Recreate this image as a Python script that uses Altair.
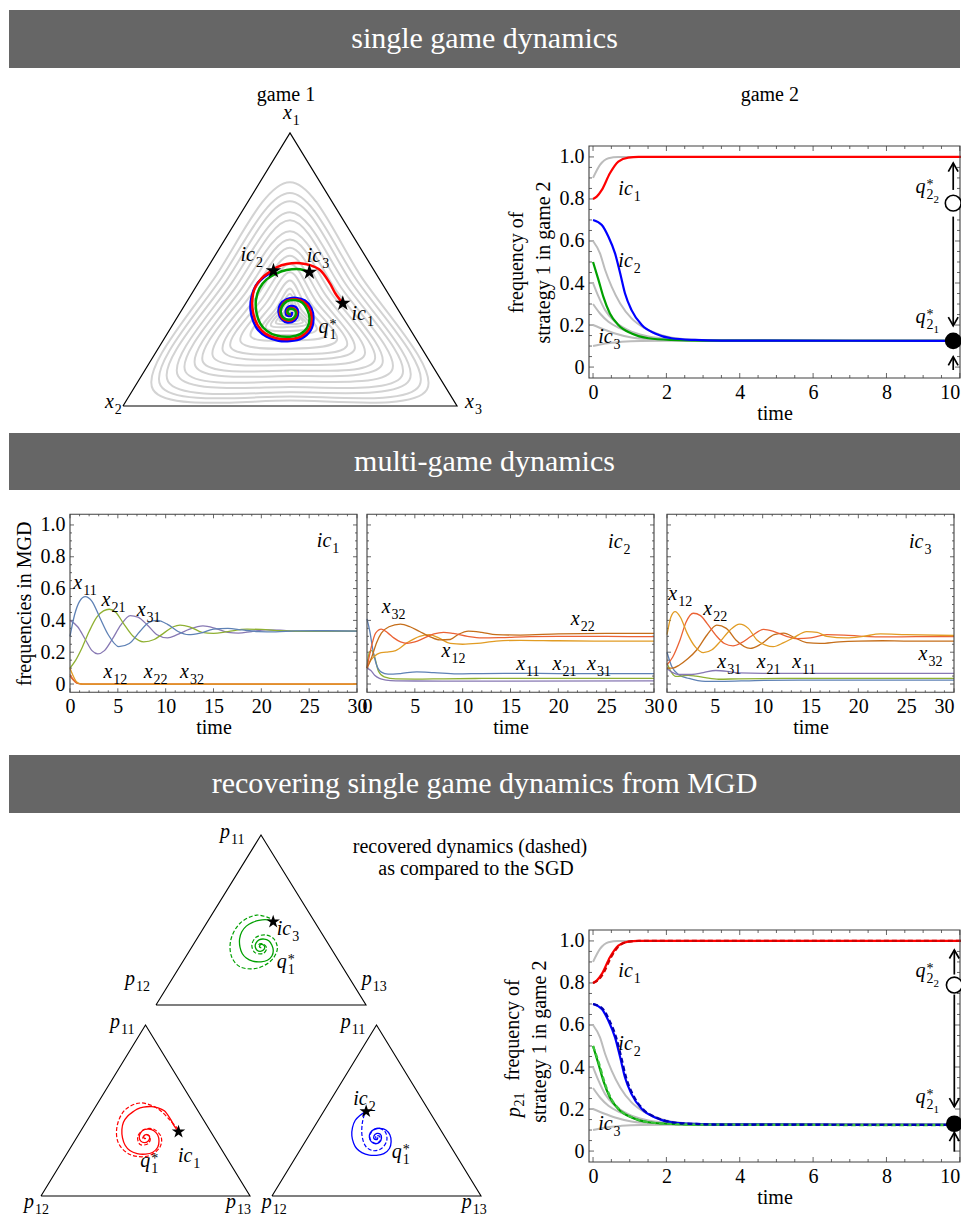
import altair as alt
import pandas as pd
import numpy as np

W, H = 953, 1209
FONT = "Liberation Serif"
FRAME = "#404040"
GRAYLOOP = "#d3d3d3"
GRAYTS = "#bcbcbc"
RED, GREEN, BLUE = "#ff0000", "#00a000", "#0000ff"
HEADER_BG = "#666666"
MGD_COL = {"x11": "#5E81B5", "x21": "#8FB032", "x31": "#8778B3",
           "x12": "#E19C24", "x22": "#EB6235", "x32": "#C56E1A"}
STAR = ("M 0 -1 L 0.2245 -0.309 L 0.951 -0.309 L 0.363 0.118 L 0.588 0.809 L 0 0.382 "
        "L -0.588 0.809 L -0.363 0.118 L -0.951 -0.309 L -0.2245 -0.309 Z")

header_titles = ["single game dynamics", "multi-game dynamics",
                 "recovering single game dynamics from MGD"]

# ---------------- game 1: trajectories on the simplex (x1, x3 ; x2 = 1 - x1 - x3)
red1_x1 = [0.376, 0.413, 0.449, 0.498, 0.516, 0.523, 0.520, 0.508, 0.492, 0.468, 0.431, 0.388,
           0.340, 0.297, 0.266, 0.248, 0.245, 0.256, 0.285, 0.321, 0.358, 0.382, 0.391, 0.386,
           0.366, 0.342, 0.321, 0.312, 0.320, 0.340, 0.354, 0.359, 0.349, 0.337, 0.337]
red1_x3 = [0.470, 0.429, 0.395, 0.341, 0.302, 0.269, 0.230, 0.206, 0.194, 0.181, 0.179, 0.193,
           0.220, 0.254, 0.292, 0.336, 0.377, 0.407, 0.416, 0.404, 0.379, 0.349, 0.320, 0.297,
           0.292, 0.299, 0.317, 0.339, 0.352, 0.350, 0.338, 0.322, 0.317, 0.326, 0.334]
green1_x1 = [0.490, 0.501, 0.498, 0.486, 0.464, 0.431, 0.388, 0.340, 0.303, 0.276, 0.258, 0.254,
             0.263, 0.288, 0.321, 0.352, 0.378, 0.388, 0.383, 0.364, 0.343, 0.324, 0.316, 0.323,
             0.340, 0.352, 0.356, 0.347, 0.338, 0.337]
green1_x3 = [0.313, 0.280, 0.241, 0.217, 0.198, 0.193, 0.204, 0.230, 0.259, 0.292, 0.331, 0.373,
             0.399, 0.408, 0.398, 0.376, 0.348, 0.321, 0.299, 0.294, 0.301, 0.318, 0.338, 0.350,
             0.348, 0.337, 0.323, 0.319, 0.327, 0.333]
blue1_x1 = [0.495, 0.471, 0.443, 0.400, 0.352, 0.309, 0.278, 0.254, 0.239, 0.238, 0.248, 0.278,
            0.318, 0.358, 0.386, 0.396, 0.391, 0.370, 0.342, 0.318, 0.306, 0.313, 0.340, 0.361,
            0.366, 0.353, 0.333, 0.331, 0.344]
blue1_x3 = [0.203, 0.185, 0.177, 0.185, 0.206, 0.236, 0.266, 0.303, 0.346, 0.381, 0.411, 0.423,
            0.411, 0.385, 0.352, 0.320, 0.295, 0.285, 0.295, 0.316, 0.339, 0.357, 0.354, 0.338,
            0.319, 0.312, 0.323, 0.338, 0.334]

# gray background orbits: extreme values of each orbit (corner / edge-middle frequencies)
loop_c1 = [0.82, 0.78, 0.75, 0.71, 0.68, 0.64, 0.61, 0.58, 0.55, 0.52, 0.49, 0.46, 0.43, 0.41, 0.395, 0.38, 0.365, 0.355]
loop_e3 = [0.04, 0.06, 0.08, 0.10, 0.12, 0.14, 0.16, 0.18, 0.20, 0.22, 0.24, 0.26, 0.28, 0.29, 0.30, 0.31, 0.318, 0.325]
loop_c2 = [0.88, 0.85, 0.82, 0.78, 0.75, 0.71, 0.68, 0.64, 0.60, 0.57, 0.53, 0.49, 0.45, 0.43, 0.41, 0.39, 0.375, 0.36]
loop_e1 = [0.02, 0.035, 0.05, 0.07, 0.09, 0.11, 0.13, 0.15, 0.17, 0.19, 0.21, 0.24, 0.26, 0.275, 0.29, 0.30, 0.31, 0.32]
loop_c3 = [0.88, 0.85, 0.81, 0.78, 0.74, 0.70, 0.67, 0.63, 0.59, 0.56, 0.52, 0.48, 0.44, 0.42, 0.40, 0.385, 0.37, 0.355]
loop_e2 = [0.05, 0.07, 0.09, 0.11, 0.13, 0.15, 0.17, 0.19, 0.21, 0.23, 0.25, 0.27, 0.29, 0.30, 0.31, 0.315, 0.32, 0.325]

# recovered (dashed) trajectories
dgreen_x1 = [0.510, 0.529, 0.481, 0.382, 0.284, 0.225, 0.216, 0.265, 0.334, 0.392, 0.412, 0.398,
             0.353, 0.308, 0.304, 0.334, 0.359, 0.356, 0.339]
dgreen_x3 = [0.288, 0.215, 0.160, 0.165, 0.218, 0.287, 0.372, 0.419, 0.411, 0.363, 0.313, 0.277,
             0.280, 0.317, 0.359, 0.360, 0.332, 0.312, 0.329]
dred_x1 = [0.390, 0.444, 0.515, 0.544, 0.503, 0.405, 0.308, 0.243, 0.234, 0.287, 0.347, 0.392,
           0.389, 0.347, 0.301, 0.307, 0.345, 0.360, 0.339, 0.327]
dred_x3 = [0.462, 0.395, 0.296, 0.202, 0.150, 0.161, 0.217, 0.304, 0.396, 0.426, 0.401, 0.341,
           0.299, 0.289, 0.324, 0.360, 0.350, 0.322, 0.317, 0.332]
dblue_x1 = [0.478, 0.421, 0.347, 0.288, 0.265, 0.279, 0.327, 0.376, 0.396, 0.376, 0.333, 0.308,
            0.323, 0.351, 0.351, 0.333]
dblue_x3 = [0.203, 0.221, 0.258, 0.306, 0.353, 0.386, 0.386, 0.353, 0.311, 0.289, 0.303, 0.339,
            0.356, 0.338, 0.321, 0.332]

# ---------------- game 2: frequency of strategy 1 over time
g2_red_t = [0, 0.1, 0.24, 0.46, 0.69, 0.96, 1.24, 2.0, 10.35]
g2_red_y = [0.80, 0.811, 0.843, 0.922, 0.978, 0.997, 1.0, 1.0, 1.0]
g2_blue_t = [0, 0.24, 0.42, 0.60, 0.74, 0.87, 1.05, 1.33, 1.69, 2.14, 2.78, 3.5, 10.35]
g2_blue_y = [0.70, 0.676, 0.620, 0.541, 0.446, 0.351, 0.271, 0.200, 0.160, 0.137, 0.129, 0.126, 0.125]
g2_green_t = [0, 0.15, 0.28, 0.46, 0.69, 1.05, 1.51, 2.14, 3.0, 10.35]
g2_green_y = [0.50, 0.414, 0.335, 0.255, 0.200, 0.160, 0.137, 0.129, 0.126, 0.125]
g2_gray90_t = [0, 0.19, 0.42, 0.69, 1.0, 10.35]
g2_gray90_y = [0.90, 0.962, 0.994, 1.0, 1.0, 1.0]
g2_gray60_t = [0, 0.19, 0.33, 0.51, 0.74, 1.05, 1.42, 1.87, 2.5, 3.5, 10.35]
g2_gray60_y = [0.60, 0.541, 0.462, 0.382, 0.303, 0.232, 0.184, 0.152, 0.133, 0.126, 0.125]
g2_gray40_t = [0, 0.15, 0.33, 0.6, 0.96, 1.42, 1.96, 2.8, 10.35]
g2_gray40_y = [0.40, 0.335, 0.271, 0.216, 0.176, 0.149, 0.135, 0.127, 0.125]
g2_gray30_t = [0, 0.19, 0.42, 0.74, 1.14, 1.69, 2.3, 3.2, 10.35]
g2_gray30_y = [0.30, 0.255, 0.216, 0.184, 0.157, 0.137, 0.129, 0.126, 0.125]
g2_gray20_t = [0, 0.28, 0.6, 1.05, 1.6, 2.3, 10.35]
g2_gray20_y = [0.20, 0.180, 0.160, 0.141, 0.132, 0.127, 0.125]
g2_gray10_t = [0, 0.33, 0.78, 1.3, 2.0, 10.35]
g2_gray10_y = [0.10, 0.112, 0.120, 0.124, 0.125, 0.125]
# recovered p21 (dashed)
rec_red_t = [0, 0.12, 0.27, 0.49, 0.72, 0.99, 1.27, 2.0, 10.35]
rec_red_y = [0.80, 0.811, 0.843, 0.922, 0.978, 0.997, 1.0, 1.0, 1.0]
rec_blue_t = [0, 0.27, 0.45, 0.63, 0.77, 0.90, 1.08, 1.36, 1.72, 2.17, 2.81, 3.5, 10.35]
rec_blue_y = [0.70, 0.676, 0.620, 0.541, 0.446, 0.351, 0.271, 0.200, 0.160, 0.137, 0.129, 0.126, 0.125]
rec_green_t = [0, 0.17, 0.30, 0.48, 0.71, 1.07, 1.53, 2.16, 3.0, 10.35]
rec_green_y = [0.50, 0.414, 0.335, 0.255, 0.200, 0.160, 0.137, 0.129, 0.126, 0.123]

# ---------------- multi-game dynamics, ic1
m1_x11_t = [0, 0.5, 1.0, 1.6, 2.3, 3.1, 4.0, 5.1, 6.2, 7.3, 8.2, 9.1, 10.2, 11.3, 12.4, 13.6, 15, 16.5, 18, 19.7, 21.5, 23.5, 26, 30]
m1_x11_y = [0.30, 0.44, 0.52, 0.55, 0.52, 0.42, 0.31, 0.235, 0.255, 0.33, 0.385, 0.40, 0.375, 0.33, 0.31, 0.32, 0.345, 0.35, 0.34, 0.33, 0.328, 0.334, 0.335, 0.333]
m1_x21_t = [0, 0.6, 1.2, 2.0, 2.8, 3.5, 4.1, 4.8, 5.6, 6.6, 7.7, 8.8, 9.8, 10.8, 11.5, 12.5, 13.8, 15, 16.5, 18.5, 20, 22, 25, 30]
m1_x21_y = [0.10, 0.15, 0.22, 0.33, 0.42, 0.46, 0.47, 0.45, 0.38, 0.30, 0.265, 0.28, 0.32, 0.36, 0.37, 0.36, 0.325, 0.318, 0.33, 0.345, 0.343, 0.335, 0.331, 0.333]
m1_x31_t = [0, 0.8, 1.6, 2.3, 2.9, 3.6, 4.4, 5.3, 6.3, 7.1, 8.1, 9.1, 10.2, 11.2, 12.5, 13.9, 15.2, 16.5, 17.6, 19, 20.5, 22, 24, 27, 30]
m1_x31_y = [0.40, 0.36, 0.28, 0.21, 0.19, 0.21, 0.28, 0.37, 0.43, 0.42, 0.37, 0.31, 0.29, 0.31, 0.345, 0.365, 0.35, 0.325, 0.32, 0.33, 0.34, 0.338, 0.331, 0.333, 0.333]
m1_x12_t = [0, 0.3, 0.6, 0.9, 1.3, 30]
m1_x12_y = [0.10, 0.055, 0.02, 0.005, 0.0, 0.0]
m1_x22_t = [0, 0.3, 0.6, 0.9, 1.3, 30]
m1_x22_y = [0.06, 0.032, 0.012, 0.004, 0.0, 0.0]
m1_x32_t = [0, 0.3, 0.6, 0.9, 1.3, 30]
m1_x32_y = [0.05, 0.028, 0.01, 0.003, 0.0, 0.0]

# ---------------- multi-game dynamics, ic2
m2_x11_t = [0, 0.3, 0.6, 1.0, 1.5, 2.2, 3.5, 5.2, 7.0, 9.4, 12, 16, 20, 30]
m2_x11_y = [0.41, 0.33, 0.22, 0.12, 0.075, 0.062, 0.066, 0.077, 0.072, 0.064, 0.066, 0.067, 0.066, 0.066]
m2_x21_t = [0, 0.25, 0.5, 0.8, 1.2, 1.8, 3.0, 5.0, 8.0, 12, 30]
m2_x21_y = [0.10, 0.20, 0.21, 0.17, 0.08, 0.045, 0.032, 0.031, 0.033, 0.035, 0.035]
m2_x31_t = [0, 0.4, 0.8, 1.3, 2.0, 3.0, 5.0, 10, 30]
m2_x31_y = [0.10, 0.085, 0.055, 0.035, 0.025, 0.02, 0.019, 0.018, 0.02]
m2_x12_t = [0, 0.3, 0.7, 1.3, 2.0, 3.0, 4.2, 5.5, 6.5, 7.5, 8.7, 10, 11.5, 13.5, 16, 20, 25, 30]
m2_x12_y = [0.10, 0.14, 0.17, 0.195, 0.20, 0.21, 0.26, 0.30, 0.31, 0.29, 0.255, 0.25, 0.255, 0.27, 0.275, 0.272, 0.27, 0.27]
m2_x22_t = [0, 0.4, 0.9, 1.5, 2.2, 2.8, 3.5, 4.2, 5.0, 5.9, 7.0, 8.0, 9.0, 10.5, 12, 14, 17, 20, 25, 30]
m2_x22_y = [0.10, 0.22, 0.32, 0.345, 0.32, 0.29, 0.265, 0.256, 0.265, 0.287, 0.315, 0.325, 0.318, 0.30, 0.29, 0.292, 0.298, 0.30, 0.299, 0.298]
m2_x32_t = [0, 0.5, 1.0, 1.5, 2.3, 3.5, 4.5, 5.5, 6.5, 7.6, 8.7, 9.5, 10.6, 12, 13.5, 16, 20, 25, 30]
m2_x32_y = [0.10, 0.17, 0.26, 0.32, 0.36, 0.377, 0.36, 0.33, 0.30, 0.277, 0.28, 0.31, 0.333, 0.325, 0.31, 0.308, 0.315, 0.318, 0.318]

# ---------------- multi-game dynamics, ic3
m3_x11_t = [0, 0.5, 1.2, 2.3, 4.0, 5.6, 9.2, 15, 30]
m3_x11_y = [0.20, 0.11, 0.06, 0.035, 0.017, 0.017, 0.022, 0.025, 0.025]
m3_x21_t = [0, 0.5, 0.9, 1.5, 2.2, 3.0, 4.0, 5.4, 7.5, 12, 30]
m3_x21_y = [0.13, 0.07, 0.048, 0.05, 0.055, 0.05, 0.04, 0.03, 0.033, 0.035, 0.036]
m3_x31_t = [0, 0.5, 1.2, 2.6, 3.8, 5.1, 6.3, 7.5, 10, 15, 30]
m3_x31_y = [0.098, 0.075, 0.06, 0.06, 0.072, 0.085, 0.08, 0.07, 0.067, 0.067, 0.067]
m3_x12_t = [0, 0.4, 0.85, 1.4, 2.1, 3.0, 3.8, 4.7, 5.6, 6.6, 7.6, 8.5, 9.4, 10.3, 11.1, 12.2, 13.2, 14.6, 15.7, 16.7, 18.8, 20.5, 22.3, 25, 30]
m3_x12_y = [0.31, 0.42, 0.455, 0.42, 0.32, 0.23, 0.197, 0.215, 0.27, 0.34, 0.377, 0.35, 0.277, 0.245, 0.235, 0.26, 0.29, 0.33, 0.325, 0.30, 0.29, 0.30, 0.315, 0.31, 0.305]
m3_x22_t = [0, 0.6, 1.36, 2.0, 2.75, 3.5, 4.2, 5.2, 6.0, 6.9, 7.8, 8.8, 10.1, 11.2, 12.5, 13.6, 15, 16.7, 18.5, 20.5, 23, 26, 30]
m3_x22_y = [0.12, 0.17, 0.277, 0.39, 0.445, 0.43, 0.38, 0.30, 0.255, 0.24, 0.26, 0.30, 0.344, 0.33, 0.30, 0.285, 0.29, 0.31, 0.308, 0.30, 0.296, 0.298, 0.298]
m3_x32_t = [0, 0.6, 1.3, 2.2, 3.1, 4.2, 5.2, 6.2, 7.2, 8.7, 9.8, 11.2, 12.2, 13.4, 14.6, 16, 18, 20, 22.5, 25, 30]
m3_x32_y = [0.10, 0.10, 0.12, 0.16, 0.214, 0.31, 0.37, 0.35, 0.277, 0.224, 0.25, 0.31, 0.32, 0.29, 0.26, 0.255, 0.265, 0.27, 0.272, 0.27, 0.27]

# axis tick values
sgd_xticks = [0, 2, 4, 6, 8, 10]
freq_yticks = [0, 0.2, 0.4, 0.6, 0.8, 1.0]
mgd_xticks = [0, 5, 10, 15, 20, 25, 30]

# ======================================================================
ITW = {"i": 0.278, "c": 0.444, "x": 0.444, "q": 0.5, "p": 0.5}


class Panel:
    def __init__(self, xd, xr, yd, yr):
        self.xd, self.xr, self.yd, self.yr = xd, xr, yd, yr

    @property
    def ppx(self):
        return (self.xr[1] - self.xr[0]) / (self.xd[1] - self.xd[0])

    @property
    def ppy(self):
        return (self.yr[0] - self.yr[1]) / (self.yd[1] - self.yd[0])

    def enc(self, xaxis=None, yaxis=None):
        return dict(
            x=alt.X("x", type="quantitative", axis=xaxis,
                    scale=alt.Scale(domain=list(self.xd), range=list(self.xr), nice=False, zero=False)),
            y=alt.Y("y", type="quantitative", axis=yaxis,
                    scale=alt.Scale(domain=list(self.yd), range=list(self.yr), nice=False, zero=False)))


L = []


def text_layer(p, rows, size=20, align="center", baseline="alphabetic", angle=0, italic=False, color="black"):
    df = pd.DataFrame(rows, columns=["x", "y", "t"])
    kw = dict(font=FONT, fontSize=size, align=align, baseline=baseline, color=color)
    if angle:
        kw["angle"] = angle
    if italic:
        kw["fontStyle"] = "italic"
    return alt.Chart(df).mark_text(**kw).encode(**p.enc(), text="t:N")


def math_labels(p, items, size=20):
    sub_size = round(size * 0.7)
    base, sub, sup, ssub = [], [], [], []
    for it in items:
        x, y, b, s, sp, ss = (list(it) + ["", "", ""])[:6]
        wb = sum(ITW.get(ch, 0.5) for ch in b) * size
        xs = x + (wb + 1) / p.ppx
        base.append((x, y, b))
        if s:
            sub.append((xs, y, s))
        if sp:
            sup.append((xs, y, sp))
        if ss:
            ssub.append((xs + (len(s) * 0.5 * sub_size) / p.ppx, y, ss))
    specs = [(base, dict(fontSize=size, fontStyle="italic")),
             (sub, dict(fontSize=sub_size, dy=round(size * 0.28))),
             (sup, dict(fontSize=sub_size, dy=-round(size * 0.2))),
             (ssub, dict(fontSize=round(sub_size * 0.8), dy=round(size * 0.5)))]
    out = []
    for rows, st in specs:
        if rows:
            df = pd.DataFrame(rows, columns=["x", "y", "t"])
            out.append(alt.Chart(df).mark_text(font=FONT, align="left", baseline="alphabetic",
                                               color="black", **st).encode(**p.enc(), text="t:N"))
    return out


def simplex_df(x1, x3, color, key):
    a1 = np.asarray(x1, float)
    a3 = np.asarray(x3, float)
    return pd.DataFrame({"x": a3 + a1 / 2, "y": a1, "i": np.arange(len(a1)), "c": color, "k": key})


def path_layer(p, dfs, width, dash=None, interp="catmull-rom"):
    df = pd.concat(dfs, ignore_index=True)
    kw = dict(strokeWidth=width, interpolate=interp)
    if dash:
        kw["strokeDash"] = dash
    return alt.Chart(df).mark_line(**kw).encode(
        **p.enc(), color=alt.Color("c:N", scale=None), detail="k:N", order="i:Q")


def triangle_outline(p, width=1.2):
    df = simplex_df([0, 0, 1, 0], [0, 1, 0, 0], "black", "tri")
    return alt.Chart(df).mark_line(strokeWidth=width, color="black").encode(**p.enc(), order="i:Q")


def stars(p, pts, size):
    df = pd.concat([simplex_df([a], [b], "black", "s") for a, b in pts], ignore_index=True)
    return alt.Chart(df).mark_point(shape=STAR, filled=True, color="black", size=size, opacity=1).encode(**p.enc())


def frame(p, xaxis=None, yaxis=None):
    df = pd.DataFrame({"x": [p.xd[0]], "x2": [p.xd[1]], "y": [p.yd[0]], "y2": [p.yd[1]]})
    return alt.Chart(df).mark_rect(fillOpacity=0, stroke=FRAME, strokeWidth=1.1).encode(
        **p.enc(xaxis, yaxis), x2="x2", y2="y2")


def ticks(p, xmaj, xmin, ymaj, ymin, lmaj=5, lmin=3):
    ux, uy = 1.0 / p.ppx, 1.0 / p.ppy
    rows = []
    for vals, ln in ((xmaj, lmaj), (xmin, lmin)):
        for v in vals:
            rows.append((v, p.yd[0], v, p.yd[0] + ln * uy))
            rows.append((v, p.yd[1], v, p.yd[1] - ln * uy))
    for vals, ln in ((ymaj, lmaj), (ymin, lmin)):
        for v in vals:
            rows.append((p.xd[0], v, p.xd[0] + ln * ux, v))
            rows.append((p.xd[1], v, p.xd[1] - ln * ux, v))
    df = pd.DataFrame(rows, columns=["x", "y", "x2", "y2"])
    return alt.Chart(df).mark_rule(color=FRAME, strokeWidth=0.8).encode(**p.enc(), x2="x2", y2="y2")


def series_layer(p, series, width, dash=None):
    dfs = []
    for key, t, y, col in series:
        dfs.append(pd.DataFrame({"x": t, "y": y, "k": key, "c": col, "i": np.arange(len(t))}))
    df = pd.concat(dfs, ignore_index=True)
    kw = dict(strokeWidth=width, interpolate="monotone")
    if dash:
        kw["strokeDash"] = dash
    return alt.Chart(df).mark_line(**kw).encode(
        **p.enc(), color=alt.Color("c:N", scale=None), detail="k:N", order="i:Q")


def ylab_expr():
    return "datum.value == 0 ? '0' : format(datum.value, '.1f')"


# ---------------------------------------------------------------- headers
for title, y0, y1 in zip(header_titles, [2, 425, 747], [60, 482, 805]):
    ph = Panel((0, 1), (1, 952), (0, 1), (y1, y0))
    rdf = pd.DataFrame({"x": [0], "x2": [1], "y": [0], "y2": [1]})
    L.append(alt.Chart(rdf).mark_rect(color=HEADER_BG).encode(**ph.enc(), x2="x2", y2="y2"))
    L.append(text_layer(ph, [(0.5, 0.5, title)], size=30, baseline="middle", color="white"))


# ---------------------------------------------------------------- game 1 simplex
def loops_df():
    dfs = []
    for j in range(len(loop_c1)):
        c1, e3, c2, e1, c3, e2 = loop_c1[j], loop_e3[j], loop_c2[j], loop_e1[j], loop_c3[j], loop_e2[j]
        x1 = [c1, (1 - e3) / 2, (1 - c2) / 2, e1, (1 - c3) / 2, (1 - e2) / 2]
        x3 = [(1 - c1) / 2, e3, (1 - c2) / 2, (1 - e1) / 2, c3, (1 - e2) / 2]
        dfs.append(simplex_df(x1, x3, GRAYLOOP, "loop%d" % j))
    return dfs


pg1 = Panel((0, 1), (115, 449), (0, 1), (398, 125))
L.append(path_layer(pg1, loops_df(), 2.0, interp="cardinal-closed"))
L.append(triangle_outline(pg1))
L.append(path_layer(pg1, [simplex_df(blue1_x1, blue1_x3, BLUE, "b"),
                          simplex_df(red1_x1, red1_x3, RED, "r"),
                          simplex_df(green1_x1, green1_x3, GREEN, "g")], 2.5))
L.append(stars(pg1, [(red1_x1[0], red1_x3[0]), (green1_x1[0], green1_x3[0]), (blue1_x1[0], blue1_x3[0])], 270))
L.append(text_layer(pg1, [(0.488, 1.118, "game 1")]))
L += math_labels(pg1, [(0.479, 1.051, "x", "1"), (-0.054, -0.007, "x", "2"), (1.024, -0.007, "x", "3"),
                       (0.352, 0.531, "ic", "2"), (0.550, 0.528, "ic", "3"), (0.684, 0.315, "ic", "1"),
                       (0.585, 0.266, "q", "1", "*")])


# ---------------------------------------------------------------- SGD time panels
def sgd_panel(p, axis_title, dashed, circ_t, y_open, y_fill, arrows, labels):
    xaxis = alt.Axis(orient="bottom", offset=p.yr[0] - H, values=sgd_xticks, title="time", format="d",
                     labelPadding=4, titlePadding=1, labelFlush=True, labelOverlap=False)
    ykw = dict(orient="left", offset=-p.xr[0], values=freq_yticks, labelExpr=ylab_expr(),
               labelPadding=5, titlePadding=6, labelFlush=False, labelOverlap=False, titleLineHeight=27)
    ykw["title"] = axis_title if axis_title else None
    yaxis = alt.Axis(**ykw)
    L.append(ticks(p, sgd_xticks, [v * 0.5 for v in range(0, 21) if v % 4], freq_yticks,
                   [round(v * 0.05, 2) for v in range(0, 21) if v % 4]))
    L.append(series_layer(p, [("g9", g2_gray90_t, g2_gray90_y, GRAYTS), ("g6", g2_gray60_t, g2_gray60_y, GRAYTS),
                              ("g4", g2_gray40_t, g2_gray40_y, GRAYTS), ("g3", g2_gray30_t, g2_gray30_y, GRAYTS),
                              ("g2", g2_gray20_t, g2_gray20_y, GRAYTS), ("g1", g2_gray10_t, g2_gray10_y, GRAYTS)], 2.0))
    L.append(series_layer(p, [("r", g2_red_t, g2_red_y, RED), ("gr", g2_green_t, g2_green_y, GREEN),
                              ("b", g2_blue_t, g2_blue_y, BLUE)], 2.2))
    if dashed:
        L.append(series_layer(p, [("gr", rec_green_t, rec_green_y, "#3cc43c"), ("r", rec_red_t, rec_red_y, "#d40000"),
                                  ("b", rec_blue_t, rec_blue_y, "#0000b0")], 2.2, dash=[5, 3]))
    L.append(frame(p, xaxis, yaxis))
    # arrows
    adf = pd.DataFrame({"x": [circ_t] * 3, "y": [a[0] for a in arrows], "y2": [a[1] for a in arrows]})
    L.append(alt.Chart(adf).mark_rule(color="black", strokeWidth=1.7).encode(**p.enc(), y2="y2"))
    up = pd.DataFrame({"x": [circ_t, circ_t], "y": [arrows[0][1], arrows[2][1]]})
    dn = pd.DataFrame({"x": [circ_t], "y": [arrows[1][1]]})
    L.append(alt.Chart(up).mark_point(shape="M -0.8 1.4 L 0 0 L 0.8 1.4", filled=False, stroke="black",
                                      strokeWidth=1.7, size=150, opacity=1).encode(**p.enc()))
    L.append(alt.Chart(dn).mark_point(shape="M -0.8 -1.4 L 0 0 L 0.8 -1.4", filled=False, stroke="black",
                                      strokeWidth=1.7, size=150, opacity=1).encode(**p.enc()))
    odf = pd.DataFrame({"x": [circ_t], "y": [y_open]})
    fdf = pd.DataFrame({"x": [circ_t], "y": [y_fill]})
    L.append(alt.Chart(odf).mark_point(shape="circle", filled=True, fill="white", stroke="black",
                                       strokeWidth=1.6, size=250, opacity=1).encode(**p.enc()))
    L.append(alt.Chart(fdf).mark_point(shape="circle", filled=True, color="black", size=280,
                                       opacity=1).encode(**p.enc()))
    L.extend(math_labels(p, labels))


pg2 = Panel((-0.11, 10.005), (581, 952), (-0.052, 1.052), (370, 138))
sgd_panel(pg2, ["frequency of", "strategy 1 in game 2"], False, 9.82, 0.78, 0.125,
          [(0.843, 0.971), (0.716, 0.197), (-0.014, 0.049)],
          [(0.69, 0.819, "ic", "1"), (0.69, 0.478, "ic", "2"), (0.14, 0.113, "ic", "3"),
           (8.79, 0.827, "q", "2", "*", "2"), (8.79, 0.208, "q", "2", "*", "1")])
L.append(text_layer(pg2, [(4.82, 1.268, "game 2")]))

# ---------------------------------------------------------------- MGD panels
mgd_minor_x = [v for v in range(0, 31) if v % 5]
mgd_minor_y = [round(v * 0.05, 2) for v in range(0, 21) if v % 4]


def mgd_panel(p, series, labels, first, flush=False):
    xaxis = alt.Axis(orient="bottom", offset=p.yr[0] - H, values=mgd_xticks, title="time", format="d",
                     labelPadding=4, titlePadding=1, labelFlush=flush, labelOverlap=False)
    yaxis = None
    if first:
        yaxis = alt.Axis(orient="left", offset=-p.xr[0], values=freq_yticks, labelExpr=ylab_expr(),
                         title="frequencies in MGD", labelPadding=5, titlePadding=6,
                         labelFlush=False, labelOverlap=False)
    L.append(ticks(p, mgd_xticks, mgd_minor_x, freq_yticks, mgd_minor_y, lmaj=4, lmin=2))
    L.append(series_layer(p, [(k, t, y, MGD_COL[k]) for k, t, y in series], 1.3))
    L.append(frame(p, xaxis, yaxis))
    L.extend(math_labels(p, labels))


pm1 = Panel((0, 30), (62, 349), (-0.052, 1.067), (684.3, 506.3))
pm2 = Panel((0, 30), (359, 646), (-0.052, 1.067), (684.3, 506.3))
pm3 = Panel((0, 30), (659, 946), (-0.052, 1.067), (684.3, 506.3))
mgd_panel(pm1, [("x32", m1_x32_t, m1_x32_y), ("x22", m1_x22_t, m1_x22_y), ("x12", m1_x12_t, m1_x12_y),
                ("x31", m1_x31_t, m1_x31_y), ("x21", m1_x21_t, m1_x21_y), ("x11", m1_x11_t, m1_x11_y)],
          [(0.35, 0.596, "x", "11"), (3.3, 0.49, "x", "21"), (6.97, 0.428, "x", "31"),
           (3.5, 0.036, "x", "12"), (7.7, 0.036, "x", "22"), (11.5, 0.036, "x", "32"),
           (25.8, 0.864, "ic", "1")], True)
mgd_panel(pm2, [("x31", m2_x31_t, m2_x31_y), ("x21", m2_x21_t, m2_x21_y), ("x11", m2_x11_t, m2_x11_y),
                ("x12", m2_x12_t, m2_x12_y), ("x32", m2_x32_t, m2_x32_y), ("x22", m2_x22_t, m2_x22_y)],
          [(1.54, 0.445, "x", "32"), (21.3, 0.371, "x", "22"), (7.8, 0.172, "x", "12"),
           (15.6, 0.088, "x", "11"), (19.4, 0.088, "x", "21"), (23.0, 0.088, "x", "31"),
           (25.2, 0.857, "ic", "2")], False)
mgd_panel(pm3, [("x11", m3_x11_t, m3_x11_y), ("x21", m3_x21_t, m3_x21_y), ("x31", m3_x31_t, m3_x31_y),
                ("x32", m3_x32_t, m3_x32_y), ("x22", m3_x22_t, m3_x22_y), ("x12", m3_x12_t, m3_x12_y)],
          [(0.14, 0.528, "x", "12"), (3.79, 0.434, "x", "22"), (26.3, 0.151, "x", "32"),
           (5.26, 0.099, "x", "31"), (9.38, 0.099, "x", "21"), (13.1, 0.099, "x", "11"),
           (25.3, 0.857, "ic", "3")], False, flush=True)


# ---------------------------------------------------------------- recovered dynamics simplices
def small_tri(p, solid, dashed, col, labels):
    L.append(triangle_outline(p, 1.1))
    L.append(path_layer(p, [simplex_df(solid[0], solid[1], col, "s")], 1.3))
    L.append(path_layer(p, [simplex_df(dashed[0], dashed[1], col, "d")], 1.2, dash=[4, 2]))
    L.append(stars(p, [(solid[0][0], solid[1][0])], 200))
    L.extend(math_labels(p, labels))


pt_top = Panel((0, 1), (148, 358), (0, 1), (997, 827))
pt_bl = Panel((0, 1), (33, 242), (0, 1), (1188, 1017))
pt_br = Panel((0, 1), (264, 473), (0, 1), (1188, 1017))
small_tri(pt_top, (green1_x1, green1_x3), (dgreen_x1, dgreen_x3), GREEN,
          [(0.305, 0.982, "p", "11"), (-0.148, 0.118, "p", "12"), (0.98, 0.118, "p", "13"),
           (0.575, 0.412, "ic", "3"), (0.575, 0.216, "q", "1", "*")])
small_tri(pt_bl, (red1_x1, red1_x3), (dred_x1, dred_x3), RED,
          [(0.330, 0.981, "p", "11"), (-0.081, -0.068, "p", "12"), (0.885, -0.068, "p", "13"),
           (0.655, 0.2, "ic", "1"), (0.475, 0.171, "q", "1", "*")])
small_tri(pt_br, (blue1_x1, blue1_x3), (dblue_x1, dblue_x3), BLUE,
          [(0.329, 0.981, "p", "11"), (-0.049, -0.068, "p", "12"), (0.908, -0.068, "p", "13"),
           (0.389, 0.532, "ic", "2"), (0.573, 0.22, "q", "1", "*")])
L.append(text_layer(pt_top, [(1.495, 0.894, "recovered dynamics (dashed)"),
                             (1.524, 0.765, "as compared to the SGD")]))

pg3 = Panel((-0.11, 10.005), (581, 952), (-0.052, 1.052), (1154, 922))
sgd_panel(pg3, None, True, 9.85, 0.79, 0.13,
          [(0.84, 0.957), (0.745, 0.211), (-0.003, 0.088)],
          [(0.69, 0.83, "ic", "1"), (0.69, 0.481, "ic", "2"), (0.14, 0.10, "ic", "3"),
           (8.79, 0.83, "q", "2", "*", "2"), (8.79, 0.227, "q", "2", "*", "1")])
L.append(text_layer(pg3, [(-1.44, 0.521, "strategy 1 in game 2"), (-2.18, 0.576, "frequency of")],
                    baseline="middle", angle=270))
L.append(text_layer(pg3, [(-2.16, 0.185, "p")], baseline="middle", angle=270, italic=True))
L.append(text_layer(pg3, [(-1.98, 0.245, "21")], size=14, baseline="middle", angle=270))

chart = alt.layer(*L).resolve_scale(x="independent", y="independent").resolve_axis(
    x="independent", y="independent").properties(
    width=W, height=H, autosize=alt.AutoSizeParams(type="none"), padding=0, background="white"
).configure_view(stroke=None).configure_axis(
    labelFont=FONT, titleFont=FONT, labelFontSize=20, titleFontSize=20, titleFontWeight="normal",
    labelColor="black", titleColor="black", grid=False, domain=False, ticks=False)

chart.save("out.html", embed_options={"renderer": "svg", "actions": False})
